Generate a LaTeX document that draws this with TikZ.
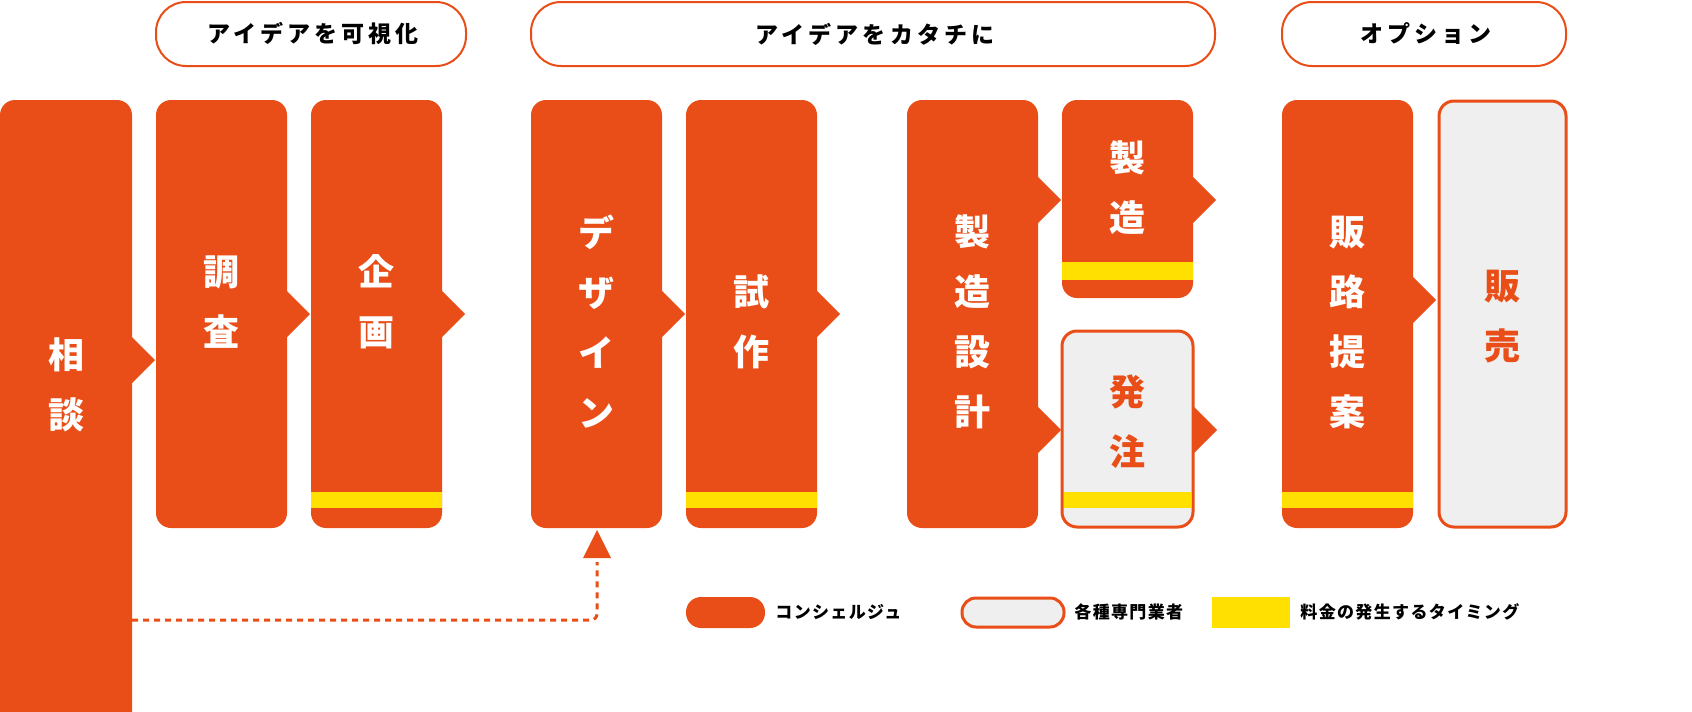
\documentclass[tikz,border=0pt]{standalone}
\usepackage{fontspec}
\setmainfont{Noto Sans CJK JP}
\newfontfamily\spfont{Noto Sans CJK JP}[LetterSpace=18]
\newfontfamily\lgfont{Noto Sans CJK JP}[LetterSpace=8]
\begin{document}
\begin{tikzpicture}[x=0.5pt,y=-0.5pt,
  org/.style={fill=OR,draw=none,rounded corners=7.5pt},
  outl/.style={fill=GR,draw=OR,line width=1.5pt,rounded corners=7.5pt},
  pill/.style={draw=OR,line width=1pt,rounded corners=15pt,fill=white},
  band/.style={fill=YL,draw=none},
  vt/.style={text=white,font=\bfseries\fontsize{18}{30}\selectfont,align=center,inner sep=0},
  vto/.style={vt,text=OR},
  hd/.style={font=\spfont\bfseries\fontsize{11.5}{14}\selectfont,inner sep=0},
  lg/.style={font=\lgfont\bfseries\fontsize{8.5}{11}\selectfont,anchor=west,inner sep=0}]
\definecolor{OR}{HTML}{E94E18}
\definecolor{YL}{HTML}{FFE000}
\definecolor{GR}{HTML}{EFEFEF}
\useasboundingbox (0,0) rectangle (1692,712);
\clip (0,0) rectangle (1692,712);
\newcommand{\notch}[2]{\fill[OR] (#1-1,#2-24) -- (#1+23,#2) -- (#1-1,#2+24) -- cycle;}
% headers
\draw[pill] (156,2) rectangle (466,66); \node[hd] (h1) at (313,34) {アイデアを可視化};
\draw[pill] (531,2) rectangle (1215,66); \node[hd] (h2) at (875,34) {アイデアをカタチに};
\draw[pill] (1282,2) rectangle (1566,66); \node[hd] (h3) at (1426,34) {オプション};
% boxes
\fill[OR,rounded corners=7.5pt] (0,100) rectangle (132,740); \notch{132}{360}
\node[vt] (soudan) at (66,385) {相\\談};
\fill[org] (156,100) rectangle (287,528); \notch{287}{314}
\node[vt] (chousa) at (221,302) {調\\査};
\fill[org] (311,100) rectangle (442,528); \fill[band] (311,492) rectangle (442,508); \notch{442}{314}
\node[vt] (kikaku) at (376,302) {企\\画};
\fill[org] (531,100) rectangle (662,528); \notch{662}{314}
\node[vt] (design) at (596,322) {デ\\ザ\\イ\\ン};
\fill[org] (686,100) rectangle (817,528); \fill[band] (686,492) rectangle (817,508); \notch{817}{314}
\node[vt] (shisaku) at (751,322) {試\\作};
\fill[org] (907,100) rectangle (1038,528); \notch{1038}{200} \notch{1038}{430}
\node[vt] (sekkei) at (972,322) {製\\造\\設\\計};
\fill[org] (1062,100) rectangle (1193,298); \fill[band] (1062,262) rectangle (1193,280); \notch{1193}{200}
\node[vt] (seizou) at (1127,188) {製\\造};
\draw[outl] (1062,331) rectangle (1193,527); \fill[band] (1064,492) rectangle (1191,508); \notch{1194}{430}
\node[vto] (hatchu) at (1127,422) {発\\注};
\fill[org] (1282,100) rectangle (1413,528); \fill[band] (1282,492) rectangle (1413,508); \notch{1413}{300}
\node[vt] (hanro) at (1347,322) {販\\路\\提\\案};
\draw[outl] (1439,101) rectangle (1566,527);
\node[vto] (hanbai) at (1502,317) {販\\売};
% dotted connector
\coordinate (dstart) at (132,620);
\coordinate (dtip) at (597,530);
\fill[OR] (dtip) -- (611,558) -- (583,558) -- cycle;
\draw[OR,line width=1.5pt,dash pattern=on 3pt off 2.5pt,rounded corners=3pt] (dstart) -- (597,620) -- (597,562);
% legend
\fill[OR,rounded corners=7.5pt] (686,597) rectangle (765,628);
\node[lg] (l1) at (775,612) {コンシェルジュ};
\draw[fill=GR,draw=OR,line width=1.5pt,rounded corners=7pt] (962,598) rectangle (1064,627);
\node[lg] (l2) at (1074,612) {各種専門業者};
\fill[YL] (1212,597) rectangle (1290,628);
\node[lg] (l3) at (1300,612) {料金の発生するタイミング};
\end{tikzpicture}
\end{document}
